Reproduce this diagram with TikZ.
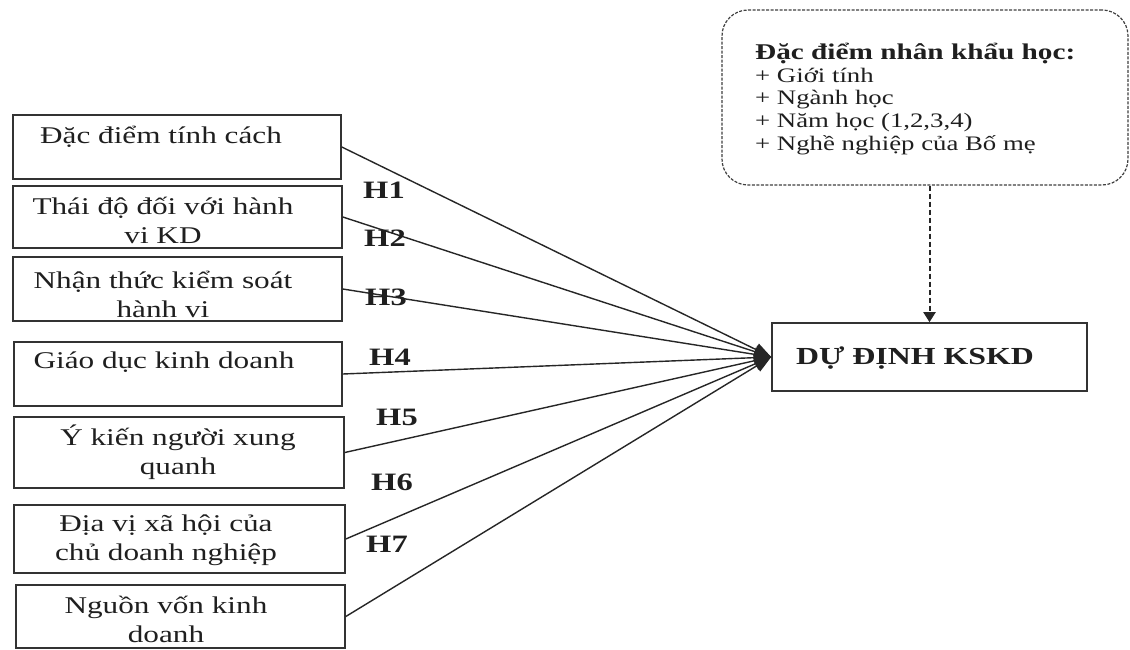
\documentclass[tikz,border=0pt]{standalone}
\usepackage{fontspec}
\setmainfont{Liberation Serif}[FakeStretch=1.3]
\usetikzlibrary{arrows.meta}
\begin{document}
\begin{tikzpicture}[x=1pt,y=-1pt,
  box/.style={draw=black!80, line width=1.6pt, inner sep=0pt},
  lbl/.style={font=\fontsize{24}{29}\selectfont, align=center, inner sep=0pt, text=black!88},
  hlab/.style={font=\bfseries\fontsize{25}{28}\selectfont, inner sep=0pt, text=black!88},
  conn/.style={line width=1.4pt, draw=black!85, -{Triangle[length=17pt,width=13pt]}},
  dasharrow/.style={line width=2pt, draw=black!85, dash pattern=on 5pt off 3pt, -{Triangle[length=10pt,width=12pt]}},
  demo/.style={draw=black!75, line width=1.2pt, dash pattern=on 3pt off 1.5pt, rounded corners=26pt, inner sep=0pt}
]
\useasboundingbox (0,0) rectangle (1130,650);
\fill[white] (0,0) rectangle (1130,650);

% left boxes
\node[box, minimum width=328pt, minimum height=64pt] (b1) at (177,147) {};
\node[box, minimum width=329pt, minimum height=62pt] (b2) at (177.5,217) {};
\node[box, minimum width=329pt, minimum height=64pt] (b3) at (177.5,289) {};
\node[box, minimum width=328pt, minimum height=64pt] (b4) at (178,374) {};
\node[box, minimum width=330pt, minimum height=71pt] (b5) at (179,452.5) {};
\node[box, minimum width=331pt, minimum height=68pt] (b6) at (179.5,539) {};
\node[box, minimum width=329pt, minimum height=63pt] (b7) at (180.5,616.5) {};

\node[lbl] (t1) at (161,137) {Đặc điểm tính cách};
\node[lbl] (t2) at (163,220) {Thái độ đối với hành\\vi KD};
\node[lbl] (t3) at (163,294) {Nhận thức kiểm soát\\hành vi};
\node[lbl] (t4) at (164,362) {Giáo dục kinh doanh};
\node[lbl] (t5) at (178,452) {Ý kiến người xung\\quanh};
\node[lbl] (t6) at (166,540) {Địa vị xã hội của\\chủ doanh nghiệp};
\node[lbl] (t7) at (166,619) {Nguồn vốn kinh\\doanh};

% target
\node[box, minimum width=315pt, minimum height=68pt] (dd) at (929.5,357) {};
\node[font=\bfseries\fontsize{24.5}{28}\selectfont, inner sep=0pt, text=black!88] (ddt) at (915,358) {DỰ ĐỊNH KSKD};

% demographic box
\node[demo, minimum width=406pt, minimum height=175pt] (top) at (925,97.5) {};
\node[anchor=west, align=left, inner sep=0pt, text=black!88, font=\fontsize{20.6}{22.6}\selectfont] (topt) at (755,99)
  {{\bfseries\fontsize{22.5}{22.6}\selectfont Đặc điểm nhân khẩu học:}\\+ Giới tính\\+ Ngành học\\+ Năm học (1,2,3,4)\\+ Nghề nghiệp của Bố mẹ};

% connectors
\foreach \i in {1,...,7} {\draw[conn] (b\i.east) -- (dd.west);}
\draw[dasharrow] (dd.north |- top.south) -- (dd.north);

% hypothesis labels
\node[hlab] (h1) at (384,190) {H1};
\node[hlab] (h2) at (385,238) {H2};
\node[hlab] (h3) at (386,297) {H3};
\node[hlab] (h4) at (390,357) {H4};
\node[hlab] (h5) at (397,417) {H5};
\node[hlab] (h6) at (392,482) {H6};
\node[hlab] (h7) at (387,544) {H7};
\end{tikzpicture}
\end{document}
